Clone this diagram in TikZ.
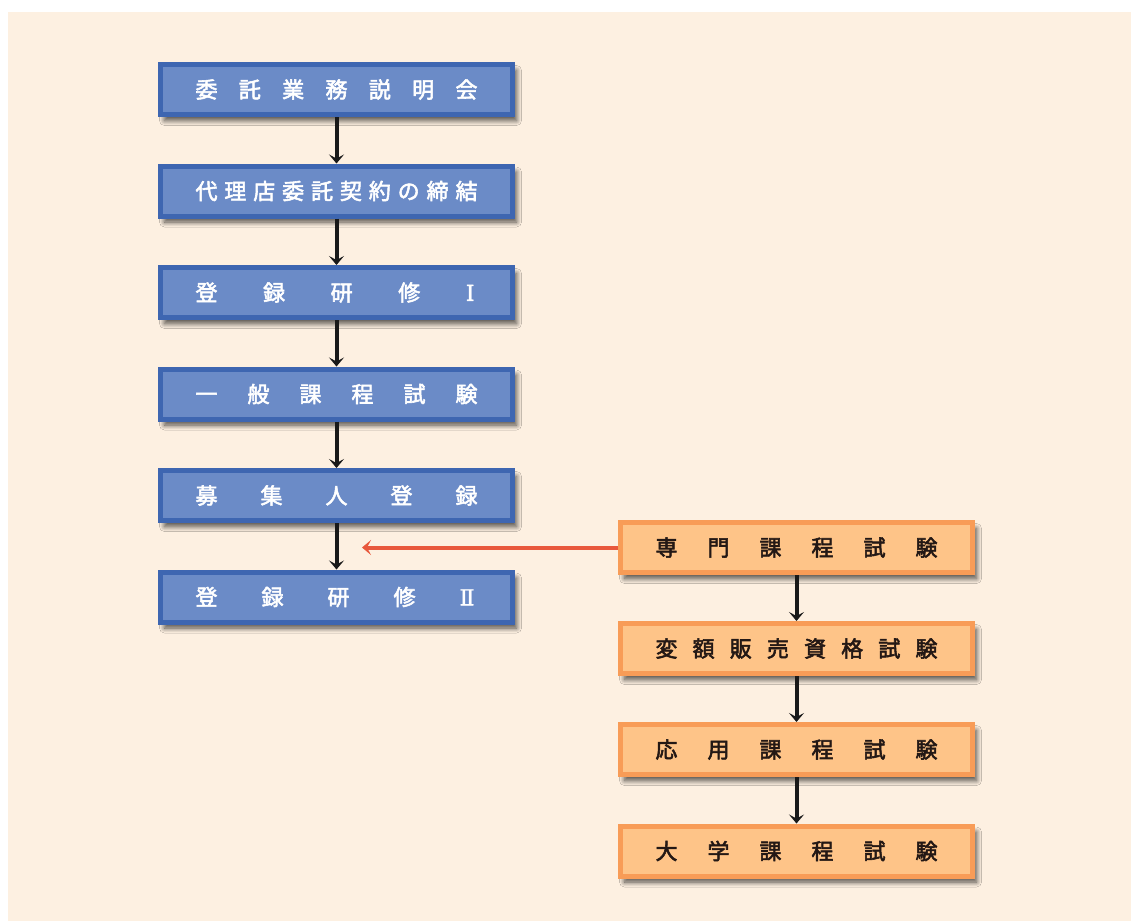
\documentclass[tikz,border=0pt]{standalone}
\usepackage{fontspec}
\setmainfont{Noto Sans CJK JP}
\newfontfamily\boxfont{Noto Sans CJK JP}[FakeBold=2.5]
\newfontfamily\romfont{DejaVu Serif}[FakeBold=1.5]
\usetikzlibrary{arrows.meta,shadows.blur}
\definecolor{bgbeige}{RGB}{253,240,225}
\definecolor{blueline}{RGB}{62,102,177}
\definecolor{bluefill}{RGB}{107,139,199}
\definecolor{orangeline}{RGB}{248,156,87}
\definecolor{orangefill}{RGB}{254,196,136}
\definecolor{darktext}{RGB}{35,24,21}
\definecolor{redarrow}{RGB}{232,88,60}
\newcommand{\sprd}[1]{\hbox to 282pt{#1}}
\begin{document}
\begin{tikzpicture}[x=1pt,y=-1pt,
  boxbase/.style={line width=5pt, minimum width=352pt, minimum height=50pt,
    inner sep=0pt, font=\fontsize{22pt}{22pt}\boxfont,
    blur shadow={shadow xshift=4pt, shadow yshift=-6pt, shadow blur radius=5pt, shadow opacity=70, shadow blur steps=10}},
  bluebox/.style={boxbase, draw=blueline, fill=bluefill, text=white},
  orangebox/.style={boxbase, draw=orangeline, fill=orangefill, text=darktext},
  flow/.style={line width=4pt, draw=black!90, -{Stealth[length=9pt,width=15pt,inset=4pt]}},
  redflow/.style={line width=4pt, draw=redarrow, -{Stealth[length=9pt,width=15pt,inset=4pt]}}
]
\useasboundingbox (0,0) rectangle (1131,922);
\fill[white] (0,0) rectangle (1131,922);
\fill[bgbeige] (8,12) rectangle (1131,921);

\node[bluebox] (b1) at (336.5,89.5) {\sprd{委\hfill 託\hfill 業\hfill 務\hfill 説\hfill 明\hfill 会}};
\node[bluebox] (b2) at (336.5,191) {\sprd{代\hfill 理\hfill 店\hfill 委\hfill 託\hfill 契\hfill 約\hfill の\hfill 締\hfill 結}};
\node[bluebox] (b3) at (336.5,292.5) {\sprd{登\hfill 録\hfill 研\hfill 修\hfill {\romfont Ⅰ}\kern3pt}};
\node[bluebox] (b4) at (336.5,394) {\sprd{一\hfill 般\hfill 課\hfill 程\hfill 試\hfill 験}};
\node[bluebox] (b5) at (336.5,495.5) {\sprd{募\hfill 集\hfill 人\hfill 登\hfill 録}};
\node[bluebox] (b6) at (336.5,597) {\sprd{登\hfill 録\hfill 研\hfill 修\hfill {\romfont Ⅱ}\kern3pt}};

\node[orangebox] (o1) at (796.5,547.5) {\sprd{専\hfill 門\hfill 課\hfill 程\hfill 試\hfill 験}};
\node[orangebox] (o2) at (796.5,648.5) {\sprd{変\hfill 額\hfill 販\hfill 売\hfill 資\hfill 格\hfill 試\hfill 験}};
\node[orangebox] (o3) at (796.5,749.5) {\sprd{応\hfill 用\hfill 課\hfill 程\hfill 試\hfill 験}};
\node[orangebox] (o4) at (796.5,851) {\sprd{大\hfill 学\hfill 課\hfill 程\hfill 試\hfill 験}};

\draw[flow] (b1.south) -- (b2.north);
\draw[flow] (b2.south) -- (b3.north);
\draw[flow] (b3.south) -- (b4.north);
\draw[flow] (b4.south) -- (b5.north);
\draw[flow] (b5.south) -- (b6.north);
\draw[flow] (o1.south) -- (o2.north);
\draw[flow] (o2.south) -- (o3.north);
\draw[flow] (o3.south) -- (o4.north);

\coordinate (redend) at (362,547.5);
\draw[redflow] (o1.west) -- (redend);
\end{tikzpicture}
\end{document}
